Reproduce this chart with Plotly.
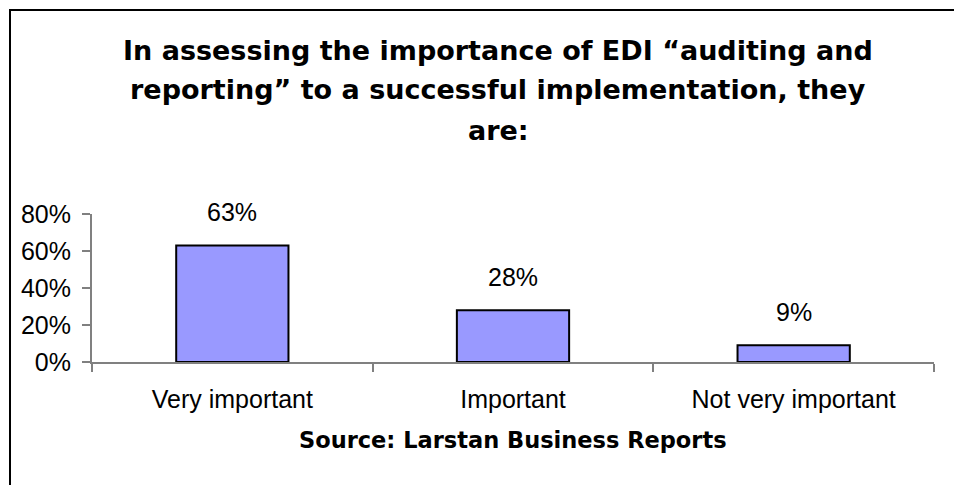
import plotly.graph_objects as go

categories = ["Very important", "Important", "Not very important"]
values = [63, 28, 9]
y_ticks = [0, 20, 40, 60, 80]
y_tick_labels = ["0%", "20%", "40%", "60%", "80%"]
title_lines = [
    "In assessing the importance of EDI \u201cauditing and",
    "reporting\u201d to a successful implementation, they",
    "are:",
]
source_text = "Source: Larstan Business Reports"

W, H = 954, 485
ML, MR, MT, MB = 92, 20, 214, 123
FONT = "Arial, Liberation Sans, sans-serif"
BFONT = "DejaVu Sans, Arial, sans-serif"

fig = go.Figure()
fig.add_trace(go.Bar(
    x=categories, y=values,
    marker=dict(color="#9999FF", line=dict(color="black", width=2)),
    width=0.4,
    hoverinfo="skip",
))

for c, v in zip(categories, values):
    fig.add_annotation(x=c, y=v, text=f"{v}%", showarrow=False,
                       xref="x", yref="y", yanchor="bottom", yshift=17,
                       font=dict(family=FONT, size=25, color="black"))

pw = W - ML - MR
ph = H - MT - MB
def px_to_paper_x(px):
    return (px - ML) / pw
def px_to_paper_y(py):
    return (H - MB - py) / ph

title_y = [50, 90, 130]
for line, ty in zip(title_lines, title_y):
    fig.add_annotation(x=px_to_paper_x(498), y=px_to_paper_y(ty), xref="paper", yref="paper",
                       text=f"<b>{line}</b>", showarrow=False, xanchor="center", yanchor="middle",
                       font=dict(family=BFONT, size=27, color="black"))

fig.add_annotation(x=px_to_paper_x(513), y=px_to_paper_y(440), xref="paper", yref="paper",
                   text=f"<b>{source_text}</b>", showarrow=False, xanchor="center", yanchor="middle",
                   font=dict(family=BFONT, size=22.5, color="black"))

# outer border (extends past the right and bottom edges)
fig.add_shape(type="rect", xref="paper", yref="paper",
              x0=px_to_paper_x(10), x1=px_to_paper_x(W + 20),
              y0=px_to_paper_y(H + 20), y1=px_to_paper_y(10),
              line=dict(color="black", width=2), fillcolor="rgba(0,0,0,0)", layer="below")

fig.update_layout(
    width=W, height=H,
    margin=dict(l=ML, r=MR, t=MT, b=MB, pad=0),
    paper_bgcolor="white", plot_bgcolor="white",
    showlegend=False,
    font=dict(family=FONT, size=25, color="black"),
    xaxis=dict(
        type="category", tickson="boundaries", ticks="outside", ticklen=8,
        tickcolor="#808080", tickwidth=1.5,
        showline=True, linecolor="#808080", linewidth=2,
        showgrid=False, zeroline=False,
        tickfont=dict(family=FONT, size=25, color="black"),
        ticklabelstandoff=14,
        range=[-0.5, 2.5], fixedrange=True,
    ),
    yaxis=dict(
        range=[0, 80], tickvals=y_ticks, ticktext=y_tick_labels,
        ticks="outside", ticklen=8, tickcolor="#808080", tickwidth=1.5,
        showline=True, linecolor="#808080", linewidth=2,
        showgrid=False, zeroline=False,
        tickfont=dict(family=FONT, size=25, color="black"),
        ticklabelstandoff=6,
        fixedrange=True,
    ),
)

fig.write_html("out.html")
